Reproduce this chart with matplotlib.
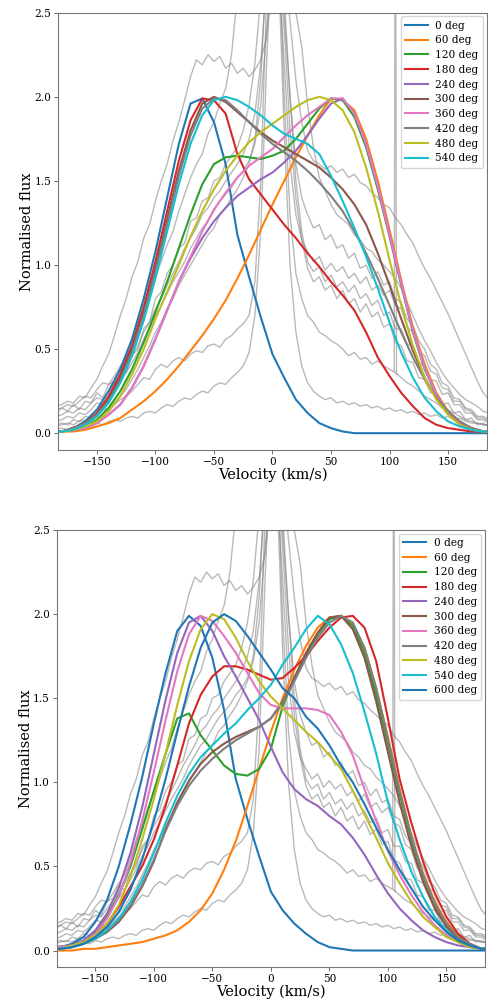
import numpy as np
import matplotlib
matplotlib.use("Agg")
import matplotlib.pyplot as plt

plt.rcParams['font.family'] = ['DejaVu Serif']

# velocity grids (km/s)
vel_obs = np.arange(-185, 186, 5)
vel_model = np.array([-185, -180, -170, -160, -150, -140, -130, -120, -110, -100, -90,
                      -80, -70, -60, -50, -40, -30, -20, -10, 0, 10, 20, 30, 40, 50,
                      60, 70, 80, 90, 100, 110, 120, 130, 140, 150, 160, 170, 180, 185])

# observed spectra, normalised
obs_1 = [0.16, 0.17, 0.19, 0.18, 0.22, 0.21, 0.27, 0.32, 0.40, 0.47,
         0.58, 0.70, 0.80, 0.93, 1.02, 1.16, 1.24, 1.38, 1.50, 1.60,
         1.74, 1.85, 1.98, 2.12, 2.22, 2.19, 2.25, 2.21, 2.24, 2.17,
         2.20, 2.14, 2.17, 2.12, 2.16, 2.22, 2.35, 2.70, 3.00, 2.80,
         2.45, 2.10, 1.85, 1.68, 1.62, 1.60, 1.57, 1.59, 1.55, 1.57,
         1.52, 1.54, 1.49, 1.47, 1.43, 1.40, 1.36, 1.34, 1.28, 1.24,
         1.18, 1.13, 1.05, 0.98, 0.92, 0.85, 0.78, 0.71, 0.63, 0.55,
         0.47, 0.39, 0.31, 0.24, 0.20]
obs_2 = [0.14, 0.15, 0.17, 0.16, 0.19, 0.22, 0.21, 0.26, 0.30, 0.29,
         0.34, 0.40, 0.45, 0.55, 0.66, 0.74, 0.85, 0.93, 1.02, 1.12,
         1.20, 1.32, 1.42, 1.52, 1.60, 1.66, 1.78, 1.85, 1.96, 2.05,
         2.25, 2.60, 2.90, 3.00, 3.00, 3.00, 3.00, 3.00, 3.00, 2.90,
         2.70, 2.50, 2.30, 1.95, 1.70, 1.52, 1.44, 1.36, 1.30, 1.27,
         1.24, 1.18, 1.15, 1.10, 1.08, 1.03, 1.00, 0.96, 0.92, 0.86,
         0.78, 0.70, 0.62, 0.55, 0.49, 0.42, 0.36, 0.31, 0.27, 0.23,
         0.20, 0.18, 0.16, 0.13, 0.12]
obs_3 = [0.12, 0.15, 0.13, 0.17, 0.14, 0.19, 0.18, 0.24, 0.21, 0.29,
         0.31, 0.39, 0.36, 0.46, 0.50, 0.62, 0.66, 0.80, 0.84, 0.95,
         1.00, 1.10, 1.13, 1.26, 1.28, 1.38, 1.40, 1.50, 1.52, 1.60,
         1.65, 1.70, 1.80, 1.95, 2.20, 2.60, 3.00, 3.20, 3.00, 2.50,
         2.00, 1.60, 1.40, 1.30, 1.22, 1.24, 1.15, 1.18, 1.10, 1.12,
         1.04, 1.07, 0.98, 1.00, 0.92, 0.96, 0.88, 0.90, 0.80, 0.78,
         0.68, 0.64, 0.55, 0.50, 0.41, 0.38, 0.30, 0.28, 0.21, 0.20,
         0.15, 0.14, 0.10, 0.10, 0.08]
obs_4 = [0.10, 0.11, 0.13, 0.12, 0.15, 0.14, 0.18, 0.21, 0.20, 0.25,
         0.30, 0.34, 0.40, 0.46, 0.52, 0.60, 0.66, 0.74, 0.80, 0.88,
         0.95, 1.02, 1.10, 1.16, 1.22, 1.30, 1.34, 1.40, 1.44, 1.50,
         1.55, 1.60, 1.66, 1.75, 1.90, 2.20, 2.70, 3.00, 2.80, 2.20,
         1.60, 1.30, 1.15, 1.08, 1.02, 1.05, 0.97, 1.01, 0.96, 0.99,
         0.92, 0.95, 0.89, 0.93, 0.85, 0.88, 0.82, 0.85, 0.76, 0.74,
         0.63, 0.60, 0.49, 0.46, 0.37, 0.35, 0.27, 0.26, 0.19, 0.19,
         0.14, 0.13, 0.09, 0.09, 0.07]
obs_5 = [0.07, 0.08, 0.10, 0.09, 0.12, 0.11, 0.14, 0.18, 0.17, 0.22,
         0.26, 0.31, 0.36, 0.42, 0.48, 0.56, 0.62, 0.70, 0.76, 0.83,
         0.90, 0.96, 1.02, 1.10, 1.16, 1.22, 1.26, 1.32, 1.38, 1.42,
         1.46, 1.52, 1.56, 1.62, 1.72, 1.95, 2.40, 2.80, 3.00, 2.60,
         2.00, 1.50, 1.20, 1.02, 0.96, 0.99, 0.90, 0.94, 0.87, 0.90,
         0.84, 0.88, 0.80, 0.83, 0.76, 0.79, 0.70, 0.72, 0.62, 0.62,
         0.53, 0.52, 0.42, 0.40, 0.32, 0.31, 0.23, 0.24, 0.17, 0.17,
         0.12, 0.12, 0.08, 0.08, 0.06]
obs_6 = [0.05, 0.06, 0.05, 0.08, 0.07, 0.10, 0.09, 0.12, 0.15, 0.14,
         0.18, 0.22, 0.26, 0.32, 0.38, 0.45, 0.52, 0.60, 0.66, 0.74,
         0.80, 0.88, 0.94, 1.00, 1.06, 1.12, 1.18, 1.22, 1.30, 1.34,
         1.40, 1.45, 1.52, 1.60, 1.75, 2.10, 2.80, 3.20, 3.00, 2.40,
         1.80, 1.40, 1.15, 0.98, 0.90, 0.93, 0.85, 0.88, 0.80, 0.85,
         0.77, 0.80, 0.72, 0.77, 0.69, 0.72, 0.63, 0.65, 0.54, 0.52,
         0.43, 0.42, 0.33, 0.32, 0.24, 0.24, 0.17, 0.18, 0.12, 0.13,
         0.08, 0.09, 0.05, 0.06, 0.04]
obs_7 = [0.04, 0.05, 0.06, 0.05, 0.07, 0.08, 0.07, 0.12, 0.14, 0.13,
         0.17, 0.20, 0.22, 0.25, 0.29, 0.33, 0.32, 0.38, 0.41, 0.39,
         0.43, 0.45, 0.43, 0.47, 0.49, 0.48, 0.52, 0.53, 0.51, 0.56,
         0.58, 0.62, 0.65, 0.70, 0.90, 1.50, 2.60, 3.20, 3.00, 2.00,
         1.30, 0.95, 0.80, 0.70, 0.66, 0.60, 0.58, 0.55, 0.53, 0.50,
         0.46, 0.48, 0.44, 0.45, 0.41, 0.43, 0.40, 0.38, 0.36, 0.33,
         0.30, 0.28, 0.25, 0.22, 0.20, 0.18, 0.15, 0.14, 0.12, 0.10,
         0.08, 0.07, 0.06, 0.05, 0.05]
obs_8 = [0.02, 0.03, 0.02, 0.04, 0.03, 0.05, 0.04, 0.06, 0.05, 0.07,
         0.08, 0.07, 0.09, 0.10, 0.09, 0.12, 0.13, 0.12, 0.15, 0.17,
         0.16, 0.19, 0.21, 0.20, 0.23, 0.25, 0.24, 0.28, 0.30, 0.29,
         0.33, 0.36, 0.40, 0.48, 0.70, 1.20, 2.20, 3.00, 2.80, 1.80,
         1.00, 0.60, 0.40, 0.30, 0.25, 0.22, 0.20, 0.21, 0.18, 0.19,
         0.17, 0.18, 0.16, 0.17, 0.15, 0.16, 0.14, 0.15, 0.13, 0.14,
         0.12, 0.13, 0.11, 0.12, 0.10, 0.11, 0.09, 0.10, 0.08, 0.09,
         0.07, 0.06, 0.06, 0.05, 0.05]
observed = [obs_1, obs_2, obs_3, obs_4, obs_5, obs_6, obs_7, obs_8]

# cosmic-ray hit in the seventh spectrum
spike_vel = [104.0, 105.0, 106.0]
spike_flux = [0.37, 4.00, 0.35]

# model profiles, first run (phases 0-540 deg)
top_labels = ['0 deg', '60 deg', '120 deg', '180 deg', '240 deg',
              '300 deg', '360 deg', '420 deg', '480 deg', '540 deg']
top_0 = [0.01, 0.01, 0.03, 0.07, 0.14, 0.25, 0.38, 0.56, 0.80, 1.08, 1.40, 1.72, 1.96, 1.99,
         1.85, 1.60, 1.18, 0.93, 0.69, 0.47, 0.33, 0.20, 0.12, 0.06, 0.03, 0.01, 0.0, 0.0,
         0.0, 0.0, 0.0, 0.0, 0.0, 0.0, 0.0, 0.0, 0.0, 0.0, 0.0]
top_60 = [0.01, 0.01, 0.01, 0.02, 0.04, 0.06, 0.09, 0.14, 0.19, 0.25, 0.32, 0.40, 0.49, 0.58,
          0.68, 0.79, 0.92, 1.06, 1.21, 1.36, 1.50, 1.64, 1.77, 1.89, 1.99, 1.98, 1.92, 1.75,
          1.50, 1.21, 0.91, 0.63, 0.41, 0.24, 0.13, 0.07, 0.03, 0.01, 0.01]
top_120 = [0.01, 0.01, 0.02, 0.04, 0.08, 0.15, 0.25, 0.38, 0.54, 0.72, 0.90, 1.10, 1.30, 1.48,
           1.60, 1.64, 1.65, 1.64, 1.63, 1.65, 1.68, 1.75, 1.84, 1.93, 1.99, 1.98, 1.88, 1.70,
           1.45, 1.17, 0.88, 0.60, 0.38, 0.23, 0.12, 0.06, 0.03, 0.01, 0.01]
top_180 = [0.01, 0.01, 0.03, 0.06, 0.12, 0.22, 0.35, 0.52, 0.75, 1.02, 1.32, 1.62, 1.86, 1.99,
           1.98, 1.90, 1.66, 1.51, 1.42, 1.33, 1.24, 1.16, 1.07, 0.99, 0.90, 0.82, 0.73, 0.60,
           0.45, 0.34, 0.24, 0.16, 0.09, 0.05, 0.03, 0.02, 0.01, 0.01, 0.01]
top_240 = [0.01, 0.01, 0.02, 0.03, 0.06, 0.11, 0.17, 0.27, 0.40, 0.56, 0.73, 0.90, 1.04, 1.16,
           1.26, 1.34, 1.41, 1.46, 1.51, 1.55, 1.61, 1.68, 1.77, 1.87, 1.96, 1.99, 1.90, 1.72,
           1.47, 1.18, 0.89, 0.61, 0.39, 0.23, 0.12, 0.06, 0.03, 0.01, 0.01]
top_300 = [0.01, 0.01, 0.03, 0.06, 0.11, 0.20, 0.33, 0.50, 0.72, 0.98, 1.27, 1.56, 1.80, 1.96,
           2.00, 1.97, 1.91, 1.85, 1.79, 1.74, 1.70, 1.66, 1.62, 1.58, 1.52, 1.45, 1.36, 1.24,
           1.07, 0.88, 0.68, 0.49, 0.33, 0.21, 0.12, 0.06, 0.03, 0.01, 0.01]
top_360 = [0.01, 0.01, 0.02, 0.03, 0.06, 0.11, 0.17, 0.27, 0.40, 0.56, 0.73, 0.90, 1.05, 1.20,
           1.33, 1.43, 1.52, 1.59, 1.64, 1.69, 1.76, 1.83, 1.89, 1.94, 1.99, 1.99, 1.90, 1.72,
           1.47, 1.18, 0.89, 0.61, 0.39, 0.23, 0.12, 0.06, 0.03, 0.01, 0.01]
top_420 = [0.01, 0.01, 0.03, 0.06, 0.11, 0.19, 0.31, 0.48, 0.70, 0.96, 1.24, 1.53, 1.77, 1.93,
           1.99, 1.98, 1.92, 1.85, 1.78, 1.72, 1.67, 1.62, 1.56, 1.49, 1.41, 1.32, 1.20, 1.07,
           0.92, 0.76, 0.60, 0.45, 0.32, 0.21, 0.13, 0.07, 0.03, 0.01, 0.01]
top_480 = [0.01, 0.01, 0.02, 0.04, 0.07, 0.13, 0.22, 0.35, 0.50, 0.68, 0.84, 1.00, 1.17, 1.32,
           1.45, 1.56, 1.65, 1.73, 1.79, 1.84, 1.89, 1.94, 1.98, 2.00, 1.98, 1.92, 1.79, 1.58,
           1.32, 1.03, 0.76, 0.52, 0.33, 0.20, 0.11, 0.05, 0.02, 0.01, 0.01]
top_540 = [0.01, 0.01, 0.02, 0.05, 0.10, 0.18, 0.30, 0.46, 0.67, 0.92, 1.20, 1.48, 1.72, 1.89,
           1.98, 2.00, 1.98, 1.94, 1.89, 1.83, 1.78, 1.75, 1.72, 1.66, 1.53, 1.38, 1.22, 1.05,
           0.86, 0.66, 0.48, 0.33, 0.21, 0.13, 0.07, 0.04, 0.02, 0.01, 0.01]
top_models = [top_0, top_60, top_120, top_180, top_240,
              top_300, top_360, top_420, top_480, top_540]

# model profiles, second run (phases 0-600 deg)
bot_labels = top_labels + ['600 deg']
bot_0 = [0.01, 0.02, 0.04, 0.08, 0.17, 0.30, 0.50, 0.75, 1.03, 1.35, 1.65, 1.90, 1.99, 1.93,
         1.74, 1.43, 1.02, 0.78, 0.56, 0.35, 0.24, 0.16, 0.10, 0.05, 0.02, 0.01, 0.0, 0.0,
         0.0, 0.0, 0.0, 0.0, 0.0, 0.0, 0.0, 0.0, 0.0, 0.0, 0.0]
bot_60 = [0.0, 0.0, 0.0, 0.01, 0.01, 0.02, 0.03, 0.04, 0.05, 0.07, 0.09, 0.12, 0.17, 0.24,
          0.34, 0.48, 0.65, 0.86, 1.08, 1.30, 1.50, 1.67, 1.81, 1.92, 1.98, 1.99, 1.94, 1.80,
          1.56, 1.27, 0.96, 0.68, 0.46, 0.29, 0.17, 0.09, 0.04, 0.01, 0.01]
bot_120 = [0.01, 0.02, 0.03, 0.06, 0.11, 0.20, 0.33, 0.50, 0.72, 0.95, 1.17, 1.38, 1.41, 1.28,
           1.19, 1.10, 1.05, 1.04, 1.08, 1.20, 1.45, 1.62, 1.76, 1.88, 1.97, 1.99, 1.93, 1.77,
           1.52, 1.23, 0.93, 0.66, 0.44, 0.27, 0.15, 0.08, 0.03, 0.01, 0.01]
bot_180 = [0.01, 0.01, 0.03, 0.05, 0.09, 0.16, 0.26, 0.38, 0.50, 0.66, 0.86, 1.10, 1.35, 1.52,
           1.63, 1.69, 1.69, 1.67, 1.64, 1.61, 1.62, 1.68, 1.75, 1.84, 1.92, 1.98, 1.99, 1.92,
           1.72, 1.38, 1.02, 0.76, 0.53, 0.34, 0.20, 0.10, 0.04, 0.01, 0.01]
bot_240 = [0.01, 0.02, 0.03, 0.06, 0.12, 0.22, 0.37, 0.58, 0.85, 1.17, 1.49, 1.77, 1.95, 1.99,
           1.90, 1.75, 1.63, 1.50, 1.37, 1.21, 1.06, 0.96, 0.90, 0.86, 0.80, 0.75, 0.67, 0.57,
           0.45, 0.34, 0.25, 0.18, 0.12, 0.08, 0.05, 0.03, 0.02, 0.01, 0.01]
bot_300 = [0.01, 0.01, 0.02, 0.04, 0.07, 0.11, 0.17, 0.26, 0.38, 0.53, 0.72, 0.88, 1.01, 1.11,
           1.18, 1.23, 1.27, 1.30, 1.33, 1.38, 1.48, 1.62, 1.77, 1.89, 1.98, 1.99, 1.91, 1.74,
           1.48, 1.18, 0.88, 0.62, 0.41, 0.25, 0.14, 0.07, 0.03, 0.01, 0.01]
bot_360 = [0.01, 0.02, 0.03, 0.05, 0.10, 0.19, 0.32, 0.52, 0.77, 1.06, 1.37, 1.66, 1.88, 1.99,
           1.96, 1.87, 1.77, 1.65, 1.53, 1.46, 1.44, 1.44, 1.44, 1.43, 1.40, 1.30, 1.16, 0.96,
           0.77, 0.59, 0.45, 0.33, 0.23, 0.15, 0.09, 0.05, 0.02, 0.01, 0.01]
bot_420 = [0.01, 0.01, 0.02, 0.04, 0.07, 0.12, 0.18, 0.27, 0.39, 0.54, 0.71, 0.86, 0.98, 1.07,
           1.14, 1.20, 1.25, 1.29, 1.33, 1.38, 1.47, 1.60, 1.74, 1.86, 1.95, 1.99, 1.95, 1.80,
           1.56, 1.26, 0.95, 0.68, 0.45, 0.28, 0.16, 0.08, 0.04, 0.01, 0.01]
bot_480 = [0.01, 0.01, 0.03, 0.05, 0.09, 0.16, 0.27, 0.44, 0.66, 0.90, 1.17, 1.46, 1.72, 1.91,
           2.00, 1.97, 1.86, 1.72, 1.60, 1.51, 1.44, 1.37, 1.30, 1.24, 1.16, 1.08, 0.95, 0.81,
           0.67, 0.52, 0.40, 0.29, 0.20, 0.14, 0.08, 0.05, 0.02, 0.01, 0.01]
bot_540 = [0.01, 0.01, 0.02, 0.04, 0.07, 0.12, 0.19, 0.29, 0.42, 0.58, 0.76, 0.92, 1.05, 1.15,
           1.22, 1.29, 1.35, 1.43, 1.50, 1.58, 1.70, 1.80, 1.91, 1.99, 1.94, 1.82, 1.65, 1.42,
           1.17, 0.88, 0.66, 0.47, 0.32, 0.20, 0.12, 0.06, 0.03, 0.01, 0.01]
bot_600 = [0.01, 0.01, 0.02, 0.04, 0.08, 0.14, 0.23, 0.36, 0.54, 0.77, 1.02, 1.30, 1.57, 1.80,
           1.95, 2.00, 1.96, 1.87, 1.77, 1.67, 1.56, 1.50, 1.39, 1.32, 1.22, 1.10, 1.00, 0.87,
           0.73, 0.60, 0.48, 0.37, 0.26, 0.18, 0.11, 0.06, 0.03, 0.01, 0.01]
bot_models = [bot_0, bot_60, bot_120, bot_180, bot_240, bot_300,
              bot_360, bot_420, bot_480, bot_540, bot_600]


def draw_panel(ax, models, labels):
    # observed spectra underneath, models on top with the default colour cycle
    for spec in observed:
        ax.plot(vel_obs, spec, color='grey', alpha=0.55, lw=1.0)
    ax.plot(spike_vel, spike_flux, color='grey', alpha=0.55, lw=1.0)
    for prof, lab in zip(models, labels):
        ax.plot(vel_model, prof, lw=1.5, label=lab)
    ax.set_xlim(-183, 183)
    ax.set_ylim(-0.1, 2.5)
    ax.set_xticks([-150, -100, -50, 0, 50, 100, 150])
    ax.set_yticks([0.0, 0.5, 1.0, 1.5, 2.0, 2.5])
    ax.tick_params(labelsize=7.6, length=3, width=0.6, pad=2, color='#555555')
    for sp in ax.spines.values():
        sp.set_color('#777777')
        sp.set_linewidth(0.8)
    ax.set_xlabel("Velocity (km/s)", fontsize=10.5, labelpad=0.5)
    ax.set_ylabel("Normalised flux", fontsize=10.5, labelpad=0)
    ax.legend(loc='upper right', fontsize=7.6, handlelength=2.2, labelspacing=0.45,
              borderaxespad=0.35, handletextpad=0.7)


fig = plt.figure(figsize=(4.89, 10.02), dpi=100)
ax_top = fig.add_axes([0.1192, 0.5509, 0.876, 0.4364])
ax_bot = fig.add_axes([0.1160, 0.0346, 0.8759, 0.4364])

draw_panel(ax_top, top_models, top_labels)
draw_panel(ax_bot, bot_models, bot_labels)

fig.savefig("out.png", dpi=100)
